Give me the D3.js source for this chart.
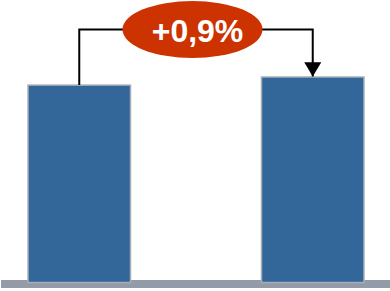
<!DOCTYPE html>
<html><head><meta charset="utf-8">
<script src="https://cdn.jsdelivr.net/npm/d3@7"></script>
<style>html,body{margin:0;padding:0;background:#fff;}svg{display:block;}</style>
</head><body>
<svg id="c" width="390" height="291"></svg>
<script>
const categories = ["A", "B"];
const values = [100, 100.9];

const W = 390, H = 291;
const svg = d3.select("#c");
const x = d3.scaleBand().domain(categories).range([0, 392]).paddingInner(0.561).paddingOuter(0.12);
const y = d3.scaleLinear().domain([78.1, 100.9]).range([282.5, 77]);

const defs = svg.append("defs");
defs.append("marker").attr("id", "arr").attr("viewBox", "0 0 10 12")
  .attr("refX", 10).attr("refY", 6).attr("markerWidth", 7.5).attr("markerHeight", 8.5)
  .attr("markerUnits", "strokeWidth").attr("orient", "auto")
  .append("path").attr("d", "M0,0 L10,6 L0,12 Z").attr("fill", "#000");

// baseline
svg.append("rect").attr("x", 1).attr("y", 280).attr("width", 389).attr("height", 8).attr("fill", "#939ba8");

// bars
svg.selectAll("rect.bar").data(values).enter().append("rect").attr("class", "bar")
  .attr("x", (d, i) => x(categories[i]))
  .attr("y", d => y(d))
  .attr("width", x.bandwidth())
  .attr("height", d => y.range()[0] - y(d))
  .attr("fill", "#336699")
  .attr("stroke", "#a7aeb9").attr("stroke-width", 1.5);

// connector
const cx1 = x(categories[0]) + x.bandwidth() / 2;
const cx2 = x(categories[1]) + x.bandwidth() / 2;
const topY = 29.5;
svg.append("path")
  .attr("d", `M${cx1},${y(values[0])} V${topY} H${cx2} V${y(values[1]) - 0.5}`)
  .attr("fill", "none").attr("stroke", "#000").attr("stroke-width", 2)
  .attr("marker-end", "url(#arr)");

// ellipse label
svg.append("ellipse").attr("cx", 192.5).attr("cy", topY).attr("rx", 70).attr("ry", 28.5).attr("fill", "#cc3300");
const pct = (values[1] / values[0] - 1) * 100;
const label = (pct >= 0 ? "+" : "") + d3.format(".1f")(pct).replace(".", ",") + "%";
svg.append("text").attr("x", 197.5).attr("y", 41.7).attr("text-anchor", "middle")
  .attr("font-family", "Liberation Sans, Arial, sans-serif").attr("font-weight", "bold")
  .attr("font-size", 32).attr("fill", "#fff").text(label);
</script>
</body></html>
